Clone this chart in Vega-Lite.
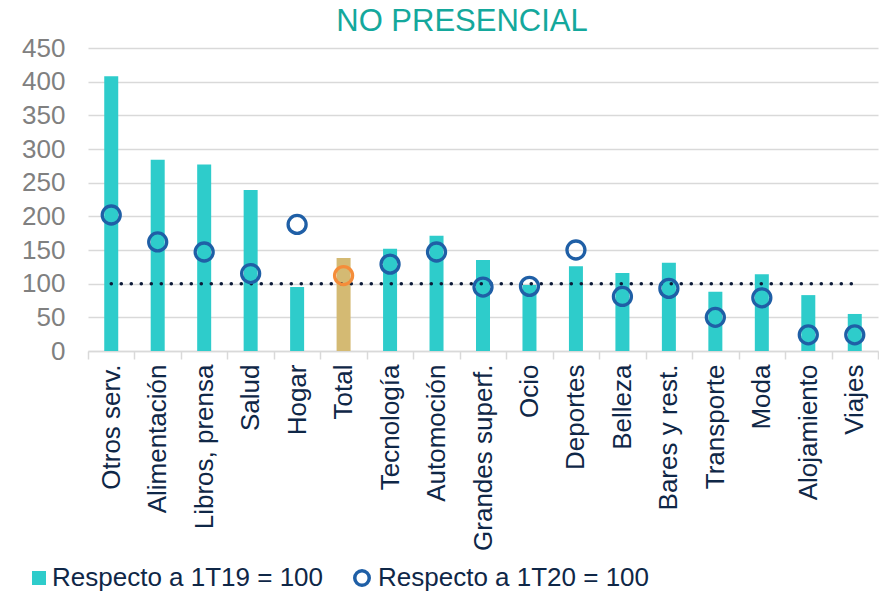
{
  "$schema": "https://vega.github.io/schema/vega-lite/v6.json",
  "width": 790,
  "height": 303,
  "padding": {"left": 21, "right": 2, "top": 6, "bottom": 4},
  "background": "white",
  "config": {
    "font": "Liberation Sans",
    "view": {"stroke": null}
  },
  "title": {
    "text": "NO PRESENCIAL",
    "fontSize": 31,
    "fontWeight": "normal",
    "color": "#14A89C",
    "anchor": "middle",
    "dx": -21,
    "offset": -3
  },
  "data": {
    "values": [
      {"cat": "Otros serv.", "v19": 408, "v20": 202},
      {"cat": "Alimentación", "v19": 284, "v20": 162},
      {"cat": "Libros, prensa", "v19": 277, "v20": 147},
      {"cat": "Salud", "v19": 239, "v20": 115},
      {"cat": "Hogar", "v19": 95, "v20": 188},
      {"cat": "Total", "v19": 138, "v20": 112},
      {"cat": "Tecnología", "v19": 152, "v20": 129},
      {"cat": "Automoción", "v19": 171, "v20": 147},
      {"cat": "Grandes superf.", "v19": 135, "v20": 95},
      {"cat": "Ocio", "v19": 98, "v20": 96},
      {"cat": "Deportes", "v19": 126, "v20": 150},
      {"cat": "Belleza", "v19": 116, "v20": 81},
      {"cat": "Bares y rest.", "v19": 131, "v20": 93},
      {"cat": "Transporte", "v19": 88, "v20": 50},
      {"cat": "Moda", "v19": 114, "v20": 79},
      {"cat": "Alojamiento", "v19": 83, "v20": 24},
      {"cat": "Viajes", "v19": 55, "v20": 24}
    ]
  },
  "transform": [{"fold": ["v19", "v20"], "as": ["key", "value"]}],
  "encoding": {
    "x": {
      "field": "cat",
      "type": "nominal",
      "sort": null,
      "title": null,
      "scale": {
        "domain": ["Otros serv.", "Alimentación", "Libros, prensa", "Salud", "Hogar", "Total", "Tecnología", "Automoción", "Grandes superf.", "Ocio", "Deportes", "Belleza", "Bares y rest.", "Transporte", "Moda", "Alojamiento", "Viajes"],
        "paddingInner": 0,
        "paddingOuter": 0
      },
      "axis": {
        "labelAngle": -90,
        "labelAlign": "right",
        "labelBaseline": "middle",
        "labelFontSize": 26,
        "labelColor": "#0F2747",
        "labelPadding": 5,
        "tickBand": "extent",
        "tickSize": 8,
        "tickColor": "#d9d9d9",
        "tickWidth": 1.5,
        "domainColor": "#d9d9d9",
        "domainWidth": 1.5,
        "labelLimit": 300
      }
    },
    "y": {
      "field": "value",
      "type": "quantitative",
      "title": null,
      "scale": {"domain": [0, 450]},
      "axis": {
        "values": [0, 50, 100, 150, 200, 250, 300, 350, 400, 450],
        "labelFontSize": 26,
        "labelColor": "#808080",
        "labelPadding": 23,
        "ticks": false,
        "domain": false,
        "gridColor": "#d9d9d9",
        "gridWidth": 1.5
      }
    }
  },
  "layer": [
    {
      "transform": [{"filter": "datum.key === 'v19' && datum.cat !== 'Total'"}],
      "mark": {"type": "bar", "size": 14},
      "encoding": {
        "fill": {
          "field": "key",
          "type": "nominal",
          "scale": {"domain": ["v19"], "range": ["#2ECCCB"]},
          "legend": {
            "title": null,
            "orient": "none",
            "legendX": -62,
            "legendY": 517,
            "labelFontSize": 26,
            "labelColor": "#0F2747",
            "labelLimit": 400,
            "labelExpr": "'Respecto a 1T19 = 100'",
            "symbolType": "square",
            "symbolSize": 196,
            "symbolStrokeWidth": 0,
            "labelOffset": 0
          }
        }
      }
    },
    {
      "transform": [{"filter": "datum.key === 'v19' && datum.cat === 'Total'"}],
      "mark": {"type": "bar", "size": 14, "color": "#D4BA73"}
    },
    {
      "transform": [{"filter": "datum.key === 'v19'"}],
      "mark": {
        "type": "line",
        "color": "#0D1B3A",
        "strokeWidth": 3.5,
        "strokeCap": "round",
        "strokeDash": [0.1, 9.9]
      },
      "encoding": {
        "y": {"datum": 100, "type": "quantitative"}
      }
    },
    {
      "transform": [{"filter": "datum.key === 'v20' && datum.cat !== 'Total'"}],
      "mark": {"type": "point", "shape": "circle", "filled": false, "size": 324, "strokeWidth": 3.3, "opacity": 1},
      "encoding": {
        "stroke": {
          "field": "key",
          "type": "nominal",
          "scale": {"domain": ["v20"], "range": ["#1F5FA6"]},
          "legend": {
            "title": null,
            "orient": "none",
            "legendX": 261,
            "legendY": 517,
            "labelFontSize": 26,
            "labelColor": "#0F2747",
            "labelLimit": 400,
            "labelExpr": "'Respecto a 1T20 = 100'",
            "symbolType": "circle",
            "symbolSize": 210,
            "symbolStrokeWidth": 3.5,
            "symbolFillColor": "transparent",
            "labelOffset": 3
          }
        }
      }
    },
    {
      "transform": [{"filter": "datum.key === 'v20' && datum.cat === 'Total'"}],
      "mark": {"type": "point", "shape": "circle", "filled": false, "size": 324, "strokeWidth": 3.3, "opacity": 1, "color": "#F58D3A"}
    }
  ]
}
